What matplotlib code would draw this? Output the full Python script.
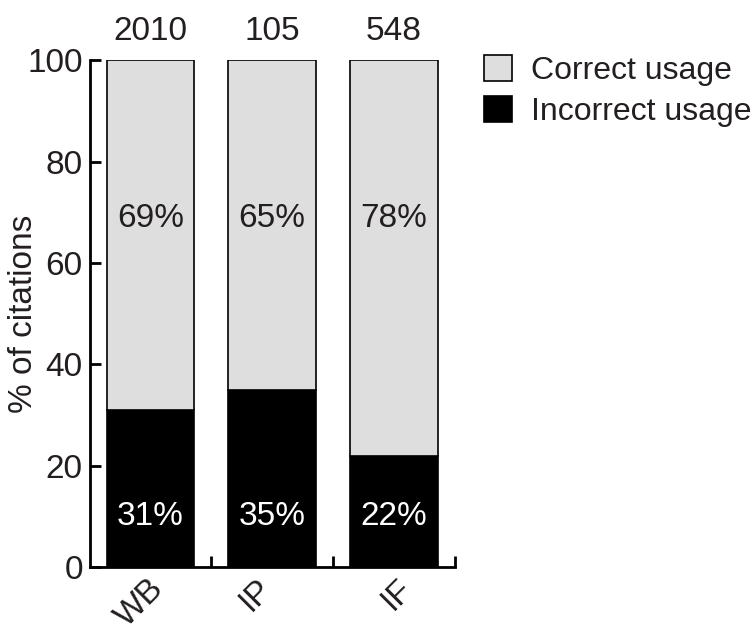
import matplotlib.pyplot as plt
import matplotlib.transforms as mtransforms
import numpy as np

plt.rcParams['font.family'] = ['Liberation Sans', 'DejaVu Sans']

groups = ['WB', 'IP', 'IF']
counts = ['2010', '105', '548']
incorrect = [31, 35, 22]
correct = [69, 65, 78]

light = '#dedede'
dark = '#000000'
txt = '#231f20'

fig = plt.figure(figsize=(7.54, 6.26), dpi=100)
ax = fig.add_axes([0.119, 0.094, 0.484, 0.81])

x = np.arange(len(groups))
w = 0.72
b1 = ax.bar(x, incorrect, w, color=dark, edgecolor='black', linewidth=1.2,
            label='Incorrect usage')
b2 = ax.bar(x, correct, w, bottom=incorrect, color=light, edgecolor='black',
            linewidth=1.2, label='Correct usage')

for i in range(len(groups)):
    ax.text(x[i], 10, '%d%%' % incorrect[i], ha='center', va='center',
            color='white', fontsize=24)
    ax.text(x[i], 68.7, '%d%%' % correct[i], ha='center', va='center',
            color=txt, fontsize=24)
    ax.text(x[i], 102.5, counts[i], ha='center', va='bottom', color=txt,
            fontsize=24)

ax.set_xlim(-0.5, 2.5)
ax.set_ylim(0, 100)
ax.set_yticks([0, 20, 40, 60, 80, 100])
ax.set_xticks(x)
ax.set_xticklabels(groups, rotation=45, ha='right', va='top',
                   rotation_mode='anchor')
ax.set_xticks([0.5, 1.5, 2.5], minor=True)
ax.tick_params(axis='x', which='major', length=0, pad=4, labelsize=24,
               labelcolor=txt)
ax.tick_params(axis='x', which='minor', direction='in', length=8, width=2)
ax.tick_params(axis='y', direction='in', length=8, width=2, labelsize=24,
               labelcolor=txt, pad=5)
ax.set_ylabel('% of citations', fontsize=24, color=txt)
ax.yaxis.set_label_coords(-0.14, 0.5)

# nudge the rotated labels sideways a little (pixels)
shifts = [-3, -16, 3]
for lab, dx in zip(ax.get_xticklabels(), shifts):
    lab.set_transform(lab.get_transform() +
                      mtransforms.ScaledTranslation(dx / 100, 0,
                                                    fig.dpi_scale_trans))

for s in ['top', 'right']:
    ax.spines[s].set_visible(False)
for s in ['left', 'bottom']:
    ax.spines[s].set_linewidth(2)

ax.legend([b2, b1], ['Correct usage', 'Incorrect usage'], frameon=False,
          loc='upper left', bbox_to_anchor=(1.045, 1.035), fontsize=23,
          handlelength=0.875, handleheight=0.875, handletextpad=0.6,
          labelspacing=0.3, labelcolor=txt, borderaxespad=0)

plt.savefig('out.png', dpi=100)
plt.close()
